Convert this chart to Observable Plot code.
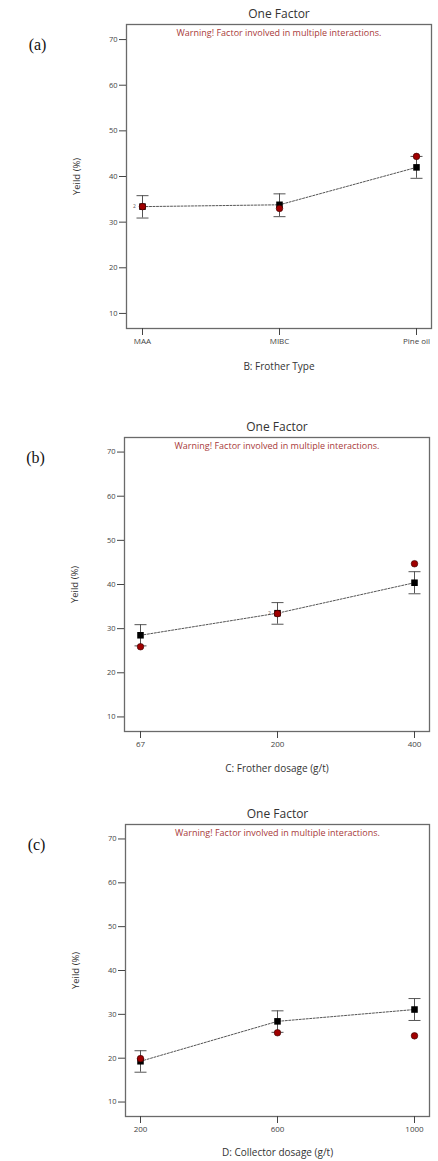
<!DOCTYPE html>
<html><head><meta charset="utf-8">
<script src="https://cdn.jsdelivr.net/npm/d3@7"></script>
<script src="https://cdn.jsdelivr.net/npm/@observablehq/plot@0.6"></script>
<style>
html,body{margin:0;padding:0;background:#fff;}
#root{position:relative;width:438px;height:1161px;overflow:hidden;background:#fff;}
.panel{position:absolute;left:0;}
</style></head><body><div id="root"></div>
<script>
// ---- data ----
const yTicks = [10, 20, 30, 40, 50, 60, 70];
const chartTitle = "One Factor";
const warningText = "Warning! Factor involved in multiple interactions.";
const yTitle = "Yeild (%)";

// (a) B: Frother Type
const aLevels = ["MAA", "MIBC", "Pine oil"];
const aPredicted = [33.4, 33.8, 42.0];
const aLower = [30.9, 31.2, 39.6];
const aUpper = [35.8, 36.2, 44.4];
const aActual = [33.4, 33.0, 44.4];
const aCount = [2, 1, 1];

// (b) C: Frother dosage
const bLevels = ["67", "200", "400"];
const bPredicted = [28.5, 33.5, 40.4];
const bLower = [26.1, 31.0, 37.9];
const bUpper = [30.9, 35.9, 42.9];
const bActual = [25.9, 33.4, 44.7];
const bCount = [1, 2, 1];

// (c) D: Collector dosage
const cLevels = ["200", "600", "1000"];
const cPredicted = [19.3, 28.4, 31.1];
const cLower = [16.8, 25.9, 28.6];
const cUpper = [21.7, 30.8, 33.6];
const cActual = [19.9, 25.8, 25.1];
const cCount = [1, 1, 1];

const panels = [
  {tag: "(a)", xTitle: "B: Frother Type", levels: aLevels, pred: aPredicted, lo: aLower, hi: aUpper, act: aActual, n: aCount,
   top: 0, height: 390, mt: 24, mb: 62, ml: 126, mr: 7, xdy: 38},
  {tag: "(b)", xTitle: "C: Frother dosage (g/t)", levels: bLevels, pred: bPredicted, lo: bLower, hi: bUpper, act: bActual, n: bCount,
   top: 390, height: 395, mt: 47, mb: 54, ml: 124, mr: 9, xdy: 37},
  {tag: "(c)", xTitle: "D: Collector dosage (g/t)", levels: cLevels, pred: cPredicted, lo: cLower, hi: cUpper, act: cActual, n: cCount,
   top: 785, height: 376, mt: 39, mb: 45, ml: 125, mr: 9, xdy: 36}
];

// horizontal cap symbol for error bars
const capSymbol = {draw(context) { context.moveTo(-6, 0); context.lineTo(6, 0); }};

const root = document.getElementById("root");
for (const cfg of panels) {
  const rows = cfg.levels.map((l, i) => ({level: l, pred: cfg.pred[i], lo: cfg.lo[i], hi: cfg.hi[i], act: cfg.act[i], n: cfg.n[i]}));
  const fig = Plot.plot({
    width: 438, height: cfg.height,
    marginTop: cfg.mt, marginBottom: cfg.mb, marginLeft: cfg.ml, marginRight: cfg.mr,
    style: {fontFamily: "'Open Sans', 'DejaVu Sans', sans-serif", background: "transparent", overflow: "visible"},
    x: {type: "point", domain: cfg.levels, padding: 0.109},
    y: {domain: [6.7, 73.3]},
    marks: [
      Plot.frame({stroke: "#6a6a6a", strokeWidth: 1.3}),
      Plot.axisY({ticks: yTicks, tickSize: 7, tickPadding: 2, fontSize: 7.5, label: null, stroke: "#444", fill: "#444"}),
      Plot.axisX({tickSize: 7, tickPadding: 3, fontSize: 8, label: null, stroke: "#444", fill: "#444"}),
      Plot.ruleX(rows, {x: "level", y1: "lo", y2: "hi", stroke: "#555", strokeWidth: 1}),
      Plot.dot(rows, {x: "level", y: "lo", symbol: capSymbol, fill: "none", stroke: "#555", strokeWidth: 1}),
      Plot.dot(rows, {x: "level", y: "hi", symbol: capSymbol, fill: "none", stroke: "#555", strokeWidth: 1}),
      Plot.line(rows, {x: "level", y: "pred", stroke: "#555", strokeDasharray: "2,1.5", strokeWidth: 1}),
      Plot.dot(rows, {x: "level", y: "pred", symbol: "square", r: 3.7, fill: "#000", stroke: "none"}),
      Plot.dot(rows, {x: "level", y: "act", r: 3.3, fill: "#a00000", stroke: "#300", strokeWidth: 0.6}),
      Plot.text(rows.filter(d => d.n > 1), {x: "level", y: "pred", text: d => String(d.n), dx: -8, fontSize: 5, fill: "#555"}),
      Plot.text([chartTitle], {frameAnchor: "top", dy: -10, lineAnchor: "middle", fontSize: 12, fill: "#333"}),
      Plot.text([warningText], {frameAnchor: "top", dy: 9, lineAnchor: "middle", fontSize: 9, fill: "#a83a3a"}),
      Plot.text([cfg.xTitle], {frameAnchor: "bottom", dy: cfg.xdy, lineAnchor: "middle", fontSize: 10, fill: "#333"}),
      Plot.text([yTitle], {frameAnchor: "left", dx: -50, rotate: -90, textAnchor: "middle", lineAnchor: "middle", fontSize: 9.5, fill: "#333"}),
      Plot.text([cfg.tag], {frameAnchor: "top-left", dx: -89, dy: 20, textAnchor: "middle", lineAnchor: "middle", fontSize: 16, fontFamily: "'Liberation Serif', serif", fill: "#111"})
    ]
  });
  const div = document.createElement("div");
  div.className = "panel";
  div.style.top = cfg.top + "px";
  div.appendChild(fig);
  root.appendChild(div);
}
</script>
</body></html>
